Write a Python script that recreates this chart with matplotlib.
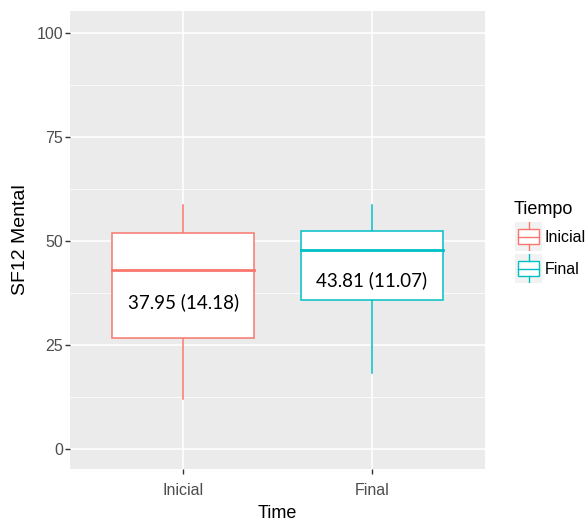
import matplotlib
matplotlib.use('Agg')
import matplotlib.pyplot as plt
from matplotlib.patches import Rectangle

# data
groups = ['Inicial', 'Final']
colors = ['#F8766D', '#00BFC4']
whisk_lo = [12.0, 18.3]
q1 = [26.7, 35.8]
med = [43.0, 47.8]
q3 = [51.9, 52.4]
whisk_hi = [58.7, 58.7]
labels = ['37.95 (14.18)', '43.81 (11.07)']
label_y = [35.3, 40.6]

plt.rcParams['font.family'] = ['Liberation Sans', 'DejaVu Sans']

fig = plt.figure(figsize=(5.88, 5.21), dpi=100)
ax = fig.add_axes([70/588, 52/521, 415/588, 458/521])
ax.set_facecolor('#EBEBEB')
for s in ax.spines.values():
    s.set_visible(False)

ax.set_xlim(0.4, 2.6)
ax.set_ylim(-4.8, 105.3)
ax.set_yticks([0, 25, 50, 75, 100])
ax.set_yticks([12.5, 37.5, 62.5, 87.5], minor=True)
ax.set_xticks([1, 2])
ax.set_xticklabels(groups)
ax.grid(True, which='major', color='white', lw=1.1)
ax.grid(True, which='minor', axis='y', color='white', lw=0.55)
ax.set_axisbelow(True)
ax.tick_params(axis='both', which='major', colors='#333333', labelcolor='#4D4D4D',
               labelsize=11.5, length=3.5, width=1)
ax.tick_params(axis='x', pad=6.5)
ax.tick_params(axis='y', pad=1.5)
ax.tick_params(axis='y', which='minor', length=0)

w = 0.75
for i, g in enumerate(groups):
    x = i + 1
    c = colors[i]
    ax.plot([x, x], [q3[i], whisk_hi[i]], color=c, lw=1.1, zorder=3)
    ax.plot([x, x], [whisk_lo[i], q1[i]], color=c, lw=1.1, zorder=3)
    ax.add_patch(Rectangle((x - w/2, q1[i]), w, q3[i] - q1[i], facecolor='white',
                           edgecolor=c, lw=1.1, zorder=3))
    ax.plot([x - w/2, x + w/2], [med[i], med[i]], color=c, lw=2, zorder=4)
    ax.text(x, label_y[i], labels[i], ha='center', va='center', fontsize=13.5,
            family=['Lato', 'DejaVu Sans'], color='black', zorder=5)

ax.set_xlabel('Time', fontsize=13, labelpad=5)
ax.set_ylabel('SF12 Mental', fontsize=14, labelpad=5)

# legend drawn by hand, ggplot style
fig.text(514/588, 1 - 209/521, 'Tiempo', fontsize=13, va='center', ha='left')
for i, g in enumerate(groups):
    top = 222 + i * 32
    kax = fig.add_axes([515/588, 1 - (top + 29)/521, 27/588, 29/521])
    kax.set_facecolor('#F2F2F2')
    kax.set_xlim(0, 1)
    kax.set_ylim(0, 1)
    kax.set_xticks([])
    kax.set_yticks([])
    for s in kax.spines.values():
        s.set_visible(False)
    c = colors[i]
    kax.plot([0.5, 0.5], [0.0, 0.25], color=c, lw=1)
    kax.plot([0.5, 0.5], [0.75, 1.0], color=c, lw=1)
    kax.add_patch(Rectangle((0.1, 0.25), 0.8, 0.5, facecolor='white', edgecolor=c, lw=1))
    kax.plot([0.1, 0.9], [0.5, 0.5], color=c, lw=1)
    fig.text(545/588, 1 - (top + 15)/521, g, fontsize=11.5, va='center', ha='left')

fig.savefig('out.png', dpi=100)
